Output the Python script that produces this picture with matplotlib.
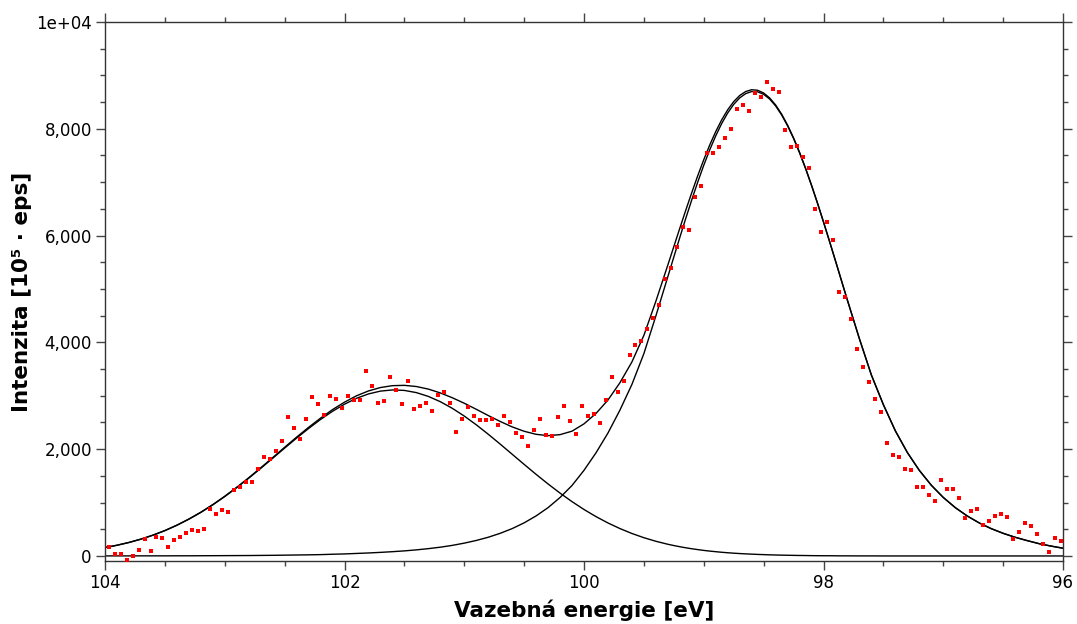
import numpy as np
import matplotlib
matplotlib.use("Agg")
import matplotlib.pyplot as plt
from matplotlib.ticker import MultipleLocator, FixedLocator, FixedFormatter

# měřené body (krok ~0.05 eV od 103.97 do 96.02)
energie_body = np.linspace(103.97, 96.02, 160)
intenzita_body = [
    174, 32, 43, -75, 6, 118, 312, 100, 362, 343,
    168, 293, 362, 437, 487, 468, 505, 874, 787, 855,
    824, 1242, 1298, 1386, 1386, 1636, 1860, 1811, 1973, 2148,
    2603, 2397, 2191, 2572, 2978, 2853, 2641, 2991, 2941, 2778,
    2991, 2922, 2922, 3471, 3190, 2872, 2903, 3347, 3115, 2853,
    3278, 2748, 2815, 2872, 2710, 3010, 3066, 2866, 2323, 2566,
    2797, 2622, 2547, 2547, 2566, 2460, 2622, 2516, 2304, 2229,
    2054, 2360, 2566, 2266, 2248, 2603, 2815, 2528, 2285, 2815,
    2622, 2660, 2497, 2922, 3359, 3078, 3272, 3771, 3946, 4027,
    4258, 4452, 4701, 5188, 5388, 5793, 6168, 6111, 6730, 6924,
    7543, 7555, 7661, 7824, 7998, 8366, 8441, 8335, 8666, 8597,
    8878, 8741, 8685, 7985, 7667, 7679, 7473, 7273, 6499, 6063,
    6256, 5919, 4950, 4845, 4433, 3871, 3540, 3259, 2941, 2691,
    2111, 1898, 1860, 1636, 1617, 1298, 1298, 1143, 1036, 1424,
    1261, 1249, 1093, 718, 843, 880, 574, 662, 755, 787,
    737, 325, 456, 612, 562, 418, 225, 81, 331, 281,
]

# fitované složky: po 0.1 eV, kolem hlavního píku po 0.05 eV
energie_fit = np.concatenate([
    np.linspace(104.0, 99.3, 48),
    np.linspace(99.25, 97.85, 29),
    np.linspace(97.8, 96.0, 19),
])
slozka_1 = [
    157, 200, 252, 314, 388, 474, 574, 688, 815, 957,
    1112, 1279, 1456, 1640, 1829, 2020, 2207, 2387, 2556, 2709,
    2842, 2952, 3034, 3087, 3109, 3100, 3059, 2988, 2889, 2765,
    2620, 2457, 2280, 2095, 1905, 1715, 1528, 1348, 1177, 1017,
    870, 737, 618, 513, 421, 342, 275, 219,
    195, 173, 153, 135, 119, 104, 91, 80, 69, 60,
    52, 45, 39, 34, 29, 25, 21, 18, 15, 13,
    11, 9, 8, 6, 5, 4, 4, 3, 2,
    2, 1, 1, 0, 0, 0, 0, 0, 0, 0,
    0, 0, 0, 0, 0, 0, 0, 0, 0,
]
slozka_2 = [
    1, 1, 1, 2, 2, 2, 3, 3, 4, 5,
    6, 7, 8, 10, 12, 15, 18, 21, 25, 32,
    38, 47, 56, 67, 80, 95, 114, 137, 164, 198,
    240, 290, 350, 424, 512, 620, 750, 905, 1095, 1320,
    1604, 1931, 2302, 2731, 3212, 3789, 4494, 5229,
    5598, 5964, 6323, 6670, 7003, 7316, 7606, 7867, 8099, 8296,
    8456, 8578, 8658, 8697, 8692, 8645, 8557, 8428, 8260, 8055,
    7818, 7550, 7255, 6938, 6603, 6252, 5892, 5525, 5155,
    4786, 4066, 3387, 2833, 2343, 1938, 1603, 1325, 1096, 906,
    749, 619, 512, 424, 350, 288, 230, 185, 145,
]
soucet = np.array(slozka_1) + np.array(slozka_2)

y_ticks = [0, 2000, 4000, 6000, 8000, 10000]
y_labels = ["0", "2,000", "4,000", "6,000", "8,000", "1e+04"]
x_ticks = [104, 102, 100, 98, 96]

fig = plt.figure(figsize=(10.77, 6.24), dpi=100)
ax = fig.add_axes([0.0975, 0.101, 0.8895, 0.8638])

ax.plot(energie_fit, slozka_1, color="black", lw=1.0)
ax.plot(energie_fit, slozka_2, color="black", lw=1.0)
ax.plot(energie_fit, soucet, color="black", lw=1.0)
ax.plot(energie_body, intenzita_body, "s", color="red", markersize=3.4,
        markeredgewidth=0, zorder=3)

ax.set_xlim(104, 96)
ax.set_ylim(-94, 10000)

ax.xaxis.set_major_locator(FixedLocator(x_ticks))
ax.xaxis.set_minor_locator(MultipleLocator(0.5))
ax.yaxis.set_major_locator(FixedLocator(y_ticks))
ax.yaxis.set_major_formatter(FixedFormatter(y_labels))
ax.yaxis.set_minor_locator(MultipleLocator(500))

ax.tick_params(which="both", direction="out", top=True, right=True,
               color="#444444", labelsize=12)
ax.tick_params(which="major", length=6.5, width=1.0, pad=3)
ax.tick_params(which="minor", length=3.8, width=1.0)

for s in ax.spines.values():
    s.set_color("#333333")
    s.set_linewidth(1.0)

ax.set_xlabel("Vazebná energie [eV]", fontsize=15.5, fontweight="bold", labelpad=5)
ax.set_ylabel("Intenzita [10⁵ · eps]", fontsize=15.5, fontweight="bold", labelpad=3)

fig.savefig("out.png", dpi=100)
